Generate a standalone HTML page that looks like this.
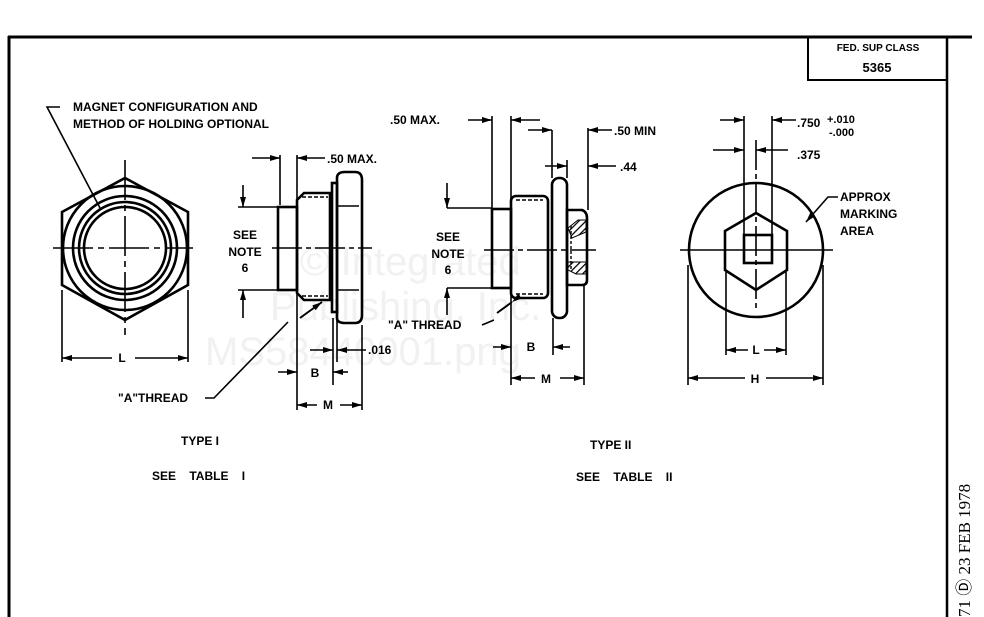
<!DOCTYPE html>
<html><head><meta charset="utf-8"><style>
html,body{margin:0;padding:0;background:#fff;width:984px;height:617px;overflow:hidden}
svg{display:block}
text{font-family:"Liberation Sans",sans-serif;font-weight:bold;fill:#000}
text.wm{fill:#f1f1f1;font-weight:normal}
</style></head><body>
<svg width="984" height="617" viewBox="0 0 984 617" xmlns="http://www.w3.org/2000/svg">
<defs>
<marker id="a" viewBox="0 0 10 6" refX="10" refY="3" markerWidth="10" markerHeight="6" orient="auto" markerUnits="userSpaceOnUse"><path d="M0,0L10,3L0,6z" fill="#000"/></marker>
<pattern id="h" width="5" height="5" patternUnits="userSpaceOnUse" patternTransform="rotate(45)"><rect width="5" height="5" fill="#fff"/><line x1="0" y1="0" x2="0" y2="5" stroke="#000" stroke-width="2.5"/></pattern>
</defs>
<!-- watermark -->
<text class="wm" x="300" y="275" font-size="40">© Integrated</text>
<text class="wm" x="270" y="320" font-size="40">Publishing, Inc.</text>
<text class="wm" x="205" y="365" font-size="40">MS58440001.png</text>
<g stroke="#000" fill="none">
<!-- frame -->
<line x1="8" y1="37" x2="972" y2="37" stroke-width="3"/>
<line x1="9" y1="36" x2="9" y2="617" stroke-width="3"/>
<line x1="947" y1="36" x2="947" y2="617" stroke-width="2.5"/>
<rect x="808" y="37" width="139" height="43" stroke-width="2"/>

<!-- TYPE I hex view -->
<g stroke-width="2.6">
<polygon points="125,178 188,212 188,285 125,320 62,285 62,212"/>
<circle cx="125" cy="248" r="62"/>
<circle cx="125" cy="248" r="52"/>
<circle cx="125" cy="248" r="46"/>
<circle cx="125" cy="248" r="41"/>
</g>
<g stroke-width="1.6">
<line x1="53" y1="248" x2="193" y2="248" stroke-dasharray="40,5,6,5"/>
<line x1="125" y1="160" x2="125" y2="335" stroke-dasharray="40,5,6,5"/>
<line x1="62" y1="290" x2="62" y2="362"/>
<line x1="188" y1="290" x2="188" y2="362"/>
<line x1="112" y1="358" x2="62" y2="358" marker-end="url(#a)"/>
<line x1="135" y1="358" x2="188" y2="358" marker-end="url(#a)"/>
<polyline points="60,107 47,107 100,208" />
</g>

<!-- TYPE I side view -->
<g stroke-width="2.6">
<path d="M337,178 Q337,172 345,172 L355,172 Q362,172 362,180 L362,315 Q362,323 355,323 L345,323 Q337,323 337,318 Z"/>
<line x1="338" y1="206" x2="359" y2="206" stroke-width="1.5"/>
<line x1="338" y1="290" x2="359" y2="290" stroke-width="1.5"/>
<rect x="332" y="183" width="5" height="129"/>
<path d="M304,193 L330,193 L330,300 L304,300 L297,293 L297,200 Z"/>
<line x1="302" y1="197" x2="328" y2="197" stroke-dasharray="4,2" stroke-width="1.4"/>
<line x1="302" y1="296" x2="328" y2="296" stroke-dasharray="4,2" stroke-width="1.4"/>
<rect x="278" y="207" width="19" height="83"/>
</g>
<g stroke-width="1.6">
<line x1="272" y1="248" x2="372" y2="248" stroke-dasharray="30,4,5,4"/>
<line x1="280" y1="155" x2="280" y2="205"/>
<line x1="297" y1="155" x2="297" y2="410"/>
<line x1="252" y1="158" x2="280" y2="158" marker-end="url(#a)"/>
<line x1="325" y1="158" x2="297" y2="158" marker-end="url(#a)"/>
<line x1="243" y1="185" x2="243" y2="207" marker-end="url(#a)"/>
<line x1="238" y1="207" x2="278" y2="207"/>
<line x1="238" y1="290" x2="278" y2="290"/>
<line x1="243" y1="318" x2="243" y2="290" marker-end="url(#a)"/>
<line x1="333" y1="318" x2="333" y2="385"/>
<line x1="337" y1="318" x2="337" y2="362"/>
<line x1="362" y1="325" x2="362" y2="410"/>
<line x1="310" y1="350" x2="333" y2="350" marker-end="url(#a)"/>
<line x1="366" y1="350" x2="337" y2="350" marker-end="url(#a)"/>
<line x1="278" y1="372" x2="297" y2="372" marker-end="url(#a)"/>
<line x1="348" y1="372" x2="333" y2="372" marker-end="url(#a)"/>
<line x1="317" y1="405" x2="297" y2="405" marker-end="url(#a)"/>
<line x1="340" y1="405" x2="362" y2="405" marker-end="url(#a)"/>
<polyline points="205,398 214,398 288,322"/>
<line x1="300" y1="318" x2="322" y2="302" marker-end="url(#a)" stroke-width="2"/>
</g>

<!-- TYPE II side view -->
<g stroke-width="2.6">
<rect x="492" y="209" width="19" height="79"/>
<rect x="511" y="196" width="37" height="102" rx="5"/>
<line x1="516" y1="200" x2="543" y2="200" stroke-dasharray="4,2" stroke-width="1.4"/>
<line x1="516" y1="294" x2="543" y2="294" stroke-dasharray="4,2" stroke-width="1.4"/>
<rect x="552" y="178" width="15" height="140" rx="7"/>
<path d="M567,210 L582,210 Q587,212 587,218 L587,280 Q587,285 582,285 L567,285 Z"/>
<path d="M568,228 L578,220 L586,220 L586,232 L572,238 Z" fill="url(#h)" stroke-width="1"/>
<path d="M568,262 L586,262 L586,274 L576,274 L568,270 Z" fill="url(#h)" stroke-width="1"/>
<line x1="571" y1="226" x2="571" y2="270" stroke-width="1.4" stroke-dasharray="3,2"/>
</g>
<g stroke-width="1.6">
<line x1="484" y1="250" x2="596" y2="250" stroke-dasharray="30,4,5,4"/>
<line x1="492" y1="116" x2="492" y2="209"/>
<line x1="511" y1="116" x2="511" y2="385"/>
<line x1="468" y1="120" x2="492" y2="120" marker-end="url(#a)"/>
<line x1="540" y1="120" x2="511" y2="120" marker-end="url(#a)"/>
<line x1="552" y1="130" x2="552" y2="178"/>
<line x1="567" y1="160" x2="567" y2="178"/>
<line x1="588" y1="128" x2="588" y2="210"/>
<line x1="528" y1="130" x2="552" y2="130" marker-end="url(#a)"/>
<line x1="612" y1="130" x2="588" y2="130" marker-end="url(#a)"/>
<line x1="545" y1="166" x2="567" y2="166" marker-end="url(#a)"/>
<line x1="616" y1="166" x2="588" y2="166" marker-end="url(#a)"/>
<line x1="447" y1="183" x2="447" y2="208" marker-end="url(#a)"/>
<line x1="447" y1="208" x2="492" y2="208"/>
<line x1="447" y1="288" x2="492" y2="288"/>
<line x1="447" y1="315" x2="447" y2="288" marker-end="url(#a)"/>
<line x1="553" y1="318" x2="553" y2="355"/>
<line x1="584" y1="285" x2="584" y2="385"/>
<line x1="493" y1="347" x2="511" y2="347" marker-end="url(#a)"/>
<line x1="570" y1="347" x2="553" y2="347" marker-end="url(#a)"/>
<line x1="535" y1="378" x2="511" y2="378" marker-end="url(#a)"/>
<line x1="560" y1="378" x2="584" y2="378" marker-end="url(#a)"/>
<line x1="482" y1="325" x2="494" y2="320"/>
<line x1="512" y1="302" x2="497" y2="313" marker-start="url(#a)" stroke-width="2"/>
</g>

<!-- TYPE II end view -->
<g stroke-width="2.6">
<circle cx="756" cy="250" r="67"/>
<polygon points="756,213 787,231 787,270 756,290 725,270 725,231"/>
<rect x="744" y="235" width="28" height="28"/>
</g>
<g stroke-width="1.6">
<line x1="680" y1="250" x2="833" y2="250"/>
<line x1="756" y1="140" x2="756" y2="312" stroke-dasharray="30,4,5,4"/>
<line x1="744" y1="116" x2="744" y2="235"/>
<line x1="772" y1="116" x2="772" y2="235"/>
<line x1="720" y1="120" x2="744" y2="120" marker-end="url(#a)"/>
<line x1="796" y1="120" x2="772" y2="120" marker-end="url(#a)"/>
<line x1="713" y1="150" x2="744" y2="150" marker-end="url(#a)"/>
<line x1="788" y1="150" x2="756" y2="150" marker-end="url(#a)"/>
<line x1="726" y1="272" x2="726" y2="355"/>
<line x1="786" y1="272" x2="786" y2="355"/>
<line x1="748" y1="350" x2="726" y2="350" marker-end="url(#a)"/>
<line x1="764" y1="350" x2="786" y2="350" marker-end="url(#a)"/>
<line x1="688" y1="265" x2="688" y2="385"/>
<line x1="823" y1="265" x2="823" y2="385"/>
<line x1="745" y1="378" x2="688" y2="378" marker-end="url(#a)"/>
<line x1="766" y1="378" x2="823" y2="378" marker-end="url(#a)"/>
<polyline points="838,197 828,197 806,222" marker-end="url(#a)"/>
</g>
</g>

<!-- labels -->
<g font-size="12">
<text x="73" y="111">MAGNET CONFIGURATION AND</text>
<text x="73" y="128">METHOD OF HOLDING OPTIONAL</text>
<text x="327" y="163">.50 MAX.</text>
<text x="245" y="239" text-anchor="middle">SEE</text>
<text x="245" y="256" text-anchor="middle">NOTE</text>
<text x="245" y="272" text-anchor="middle">6</text>
<text x="122" y="362" text-anchor="middle">L</text>
<text x="368" y="354">.016</text>
<text x="315" y="377" text-anchor="middle">B</text>
<text x="328" y="409" text-anchor="middle">M</text>
<text x="118" y="402">"A"THREAD</text>
<text x="390" y="124">.50 MAX.</text>
<text x="614" y="135">.50 MIN</text>
<text x="620" y="171">.44</text>
<text x="448" y="241" text-anchor="middle">SEE</text>
<text x="448" y="258" text-anchor="middle">NOTE</text>
<text x="448" y="274" text-anchor="middle">6</text>
<text x="388" y="329">"A" THREAD</text>
<text x="531" y="351" text-anchor="middle">B</text>
<text x="546" y="383" text-anchor="middle">M</text>
<text x="797" y="127">.750</text>
<text x="827" y="123" font-size="11">+.010</text>
<text x="829" y="136" font-size="11">-.000</text>
<text x="797" y="159">.375</text>
<text x="840" y="201">APPROX</text>
<text x="840" y="218">MARKING</text>
<text x="840" y="235">AREA</text>
<text x="756" y="354" text-anchor="middle">L</text>
<text x="755" y="383" text-anchor="middle">H</text>
<text x="181" y="445">TYPE I</text>
<text x="152" y="480" word-spacing="10">SEE TABLE I</text>
<text x="590" y="449">TYPE II</text>
<text x="576" y="481" word-spacing="10">SEE TABLE II</text>
<text x="878" y="51" font-size="10" text-anchor="middle">FED. SUP CLASS</text>
<text x="877" y="72" font-size="13" text-anchor="middle">5365</text>
</g>
<text transform="translate(970,617) rotate(-90)" font-size="17" style="font-family:'Liberation Serif',serif;font-weight:normal">71 Ⓓ 23 FEB 1978</text>
</svg>
</body></html>
